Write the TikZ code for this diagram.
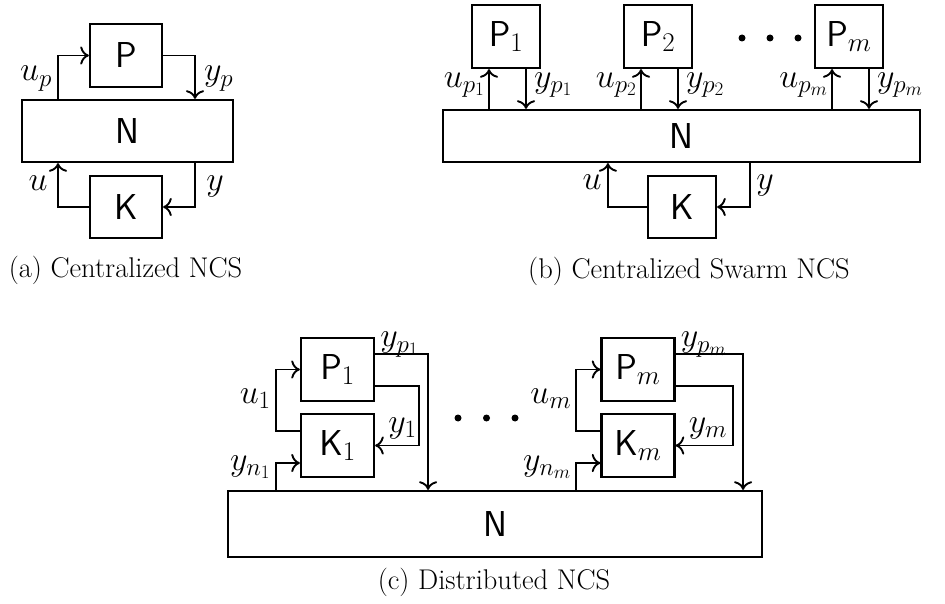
\RequirePackage{fix-cm}
\documentclass[tikz,border=0pt]{standalone}
\usetikzlibrary{arrows.meta,calc,positioning}
\DeclareMathSizes{36}{36}{27}{20}
\DeclareMathSizes{34}{34}{25}{19}
\newcommand\blockfont{\fontsize{36}{42}\selectfont\sffamily}
\newcommand\sigfont{\fontsize{34}{40}\selectfont}
\newcommand\capfont{\fontsize{28.5}{34}\selectfont}

\begin{document}
\begin{tikzpicture}[x=1pt,y=-1pt,>={To[scale=1.5]},line join=miter]
\useasboundingbox[fill=white] (0,0) rectangle (945,604);
\tikzset{block/.style={draw,line width=2.2pt,minimum width=72pt,minimum height=63pt,inner sep=0pt,font=\blockfont},net/.style={draw,line width=2.2pt,inner sep=0pt,font=\blockfont},wire/.style={draw,line width=1.9pt},sig/.style={inner sep=0pt,font=\sigfont},caption/.style={inner sep=0pt,font=\capfont,anchor=base}}
% (a) centralized
\node[net,minimum width=211pt,minimum height=62pt] (Na) at (127.5,131) {N};
\node[block] (Pa) at (126,55.5) {P};
\node[block,minimum height=62pt] (Ka) at (126,207) {K};
\coordinate (ua) at (58,0); \coordinate (ya) at (195,0);
\draw[wire,->] (ua |- Na.north) |- (Pa.west);
\draw[wire,->] (Pa.east) -| (ya |- Na.north);
\draw[wire,->] (Ka.west) -| (ua |- Na.south);
\draw[wire,->] (ya |- Na.south) |- (Ka.east);
\node[sig,anchor=base east] (lup) at (52,81) {$u_p$}; \node[sig,anchor=base west] (lyp) at (204,81) {$y_p$};
\node[sig,anchor=base] (lu) at (38,191) {$u$}; \node[sig,anchor=base] (ly) at (215,191) {$y$};
\node[caption] (capa) at (125.5,277) {(a) Centralized NCS};
% (b) swarm
\node[net,minimum width=477pt,minimum height=52pt] (Nb) at (681.5,136) {N};
\foreach \i/\x in {1/506,2/658,m/849} {
  \node[block,minimum width=68pt] (Pb\i) at (\x,36.5) {$\mathsf{P}_\i$};
  \draw[wire,->] ([xshift=-17pt]Pb\i.south |- Nb.north) -- ([xshift=-17pt]Pb\i.south);
  \draw[wire,->] ([xshift=20pt]Pb\i.south) -- ([xshift=20pt]Pb\i.south |- Nb.north);
  \node[sig,anchor=base east] (lub\i) at ([xshift=-21pt,yshift=-18pt]Pb\i.south) {$u_{p_\i}$};
  \node[sig,anchor=base west] (lyb\i) at ([xshift=28pt,yshift=-18pt]Pb\i.south) {$y_{p_\i}$};
}
\foreach \x in {742,770,798} \fill (\x,38) circle (3.5);
\node[block,minimum width=68pt,minimum height=62pt] (Kb) at (682,207) {K};
\draw[wire,->] (Kb.west) -| ([xshift=-39pt]Kb.west |- Nb.south);
\draw[wire,->] ([xshift=33pt]Kb.east |- Nb.south) |- (Kb.east);
\node[sig,anchor=base] (lub) at (592,190) {$u$}; \node[sig,anchor=base] (lyb) at (765,190) {$y$};
\node[caption] (capb) at (689,278) {(b) Centralized Swarm NCS};
% (c) distributed
\node[net,minimum width=534pt,minimum height=66pt] (Nc) at (495,524) {N};
\foreach \i/\x/\fb/\yb in {1/337.5/44/53,m/638/57.5/67.5} {
  \node[block,minimum width=73pt] (Pc\i) at (\x,369.5) {$\mathsf{P}_\i$};
  \node[block,minimum width=73pt] (Kc\i) at (\x,445.5) {$\mathsf{K}_\i$};
  \draw[wire,->] ([yshift=14.5pt]Kc\i.west) -| ([xshift=-24pt]Pc\i.west) -- (Pc\i.west);
  \draw[wire,->] ([xshift=-24pt]Kc\i.west |- Nc.north) |- ([yshift=-17.5pt]Kc\i.west);
  \draw[wire,->] ([yshift=-16.5pt]Pc\i.east) -| ([xshift=\fb pt]Kc\i.east) -- (Kc\i.east);
  \draw[wire,->] ([yshift=15.5pt]Pc\i.east) -| ([xshift=\yb pt]Pc\i.east |- Nc.north);
  \node[sig,anchor=base west] (lyc\i) at ([xshift=5pt,yshift=-10pt]Pc\i.north east) {$y_{p_\i}$};
  \node[sig,anchor=base east] (luc\i) at ([xshift=-29pt,yshift=-33.5pt]Pc\i.west) {$u_\i$};
  \node[sig,anchor=base west] (lkc\i) at ([xshift=13pt,yshift=13.5pt]Kc\i.east) {$y_\i$};
  \node[sig,anchor=base east] (lnc\i) at ([xshift=-29pt,yshift=-24.5pt]Kc\i.west) {$y_{n_\i}$};
}
\foreach \x in {458,486.5,515} \fill (\x,418) circle (3.5);
\node[caption] (capc) at (494,589) {(c) Distributed NCS};
\end{tikzpicture}
\end{document}
